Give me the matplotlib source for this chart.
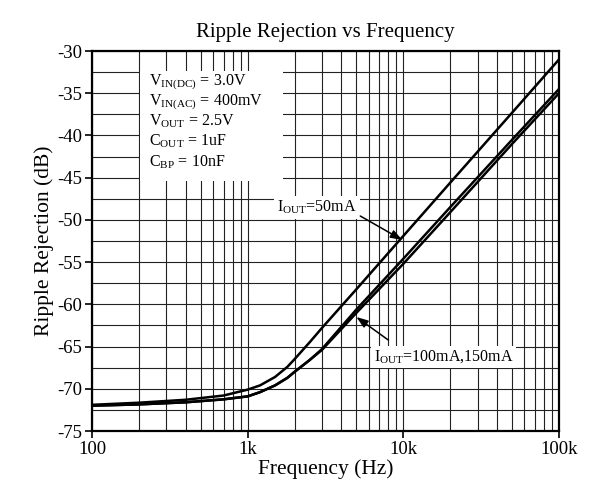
import numpy as np
import matplotlib
matplotlib.use('Agg')
import matplotlib.pyplot as plt
from matplotlib.patches import Rectangle
from matplotlib.ticker import FixedLocator, FixedFormatter, MultipleLocator

plt.rcParams['font.family'] = ['Liberation Serif', 'DejaVu Serif']
plt.rcParams['mathtext.fontset'] = 'custom'
plt.rcParams['mathtext.rm'] = 'Liberation Serif'
plt.rcParams['axes.unicode_minus'] = False

# values (Hz, dB)
freq = [100, 200, 400, 700, 1000, 1200, 1500, 1800, 2000, 2500, 3000, 5000, 10000, 20000, 50000, 100000]
rr_50mA = [-71.9, -71.65, -71.3, -70.8, -70.1, -69.6, -68.6, -67.4, -66.5, -64.5, -62.8, -58.2, -51.9, -45.6, -37.3, -31.0]
rr_100mA = [-72.0, -71.85, -71.6, -71.25, -70.9, -70.4, -69.6, -68.7, -68.0, -66.6, -65.3, -60.6, -54.6, -48.5, -40.5, -34.5]
rr_150mA = [-72.0, -71.85, -71.6, -71.25, -70.9, -70.4, -69.6, -68.7, -68.0, -66.6, -65.4, -61.0, -55.2, -49.1, -41.0, -35.0]

xtick_vals = [100, 1000, 10000, 100000]
xtick_labels = ['100', '1k', '10k', '100k']

conditions = [r'V$_{\mathrm{IN(DC)}}$ = 3.0V',
              r'V$_{\mathrm{IN(AC)}}$ = 400mV',
              r'V$_{\mathrm{OUT}}$ = 2.5V',
              r'C$_{\mathrm{OUT}}$ = 1uF',
              r'C$_{\mathrm{BP}}$ = 10nF']

fig = plt.figure(figsize=(5.93, 4.93), dpi=100)
ax = fig.add_axes([92 / 593, 1 - 431 / 493, 467 / 593, 380 / 493])

ax.set_xscale('log')
ax.set_xlim(100, 100000)
ax.set_ylim(-75, -30)

# grid
ax.xaxis.set_major_locator(FixedLocator(xtick_vals))
ax.xaxis.set_major_formatter(FixedFormatter(xtick_labels))
minor_x = [m * d for d in [100, 1000, 10000] for m in range(2, 10)]
ax.xaxis.set_minor_locator(FixedLocator(minor_x))
ax.xaxis.set_minor_formatter(FixedFormatter([''] * len(minor_x)))
ax.yaxis.set_major_locator(MultipleLocator(5))
ax.yaxis.set_minor_locator(MultipleLocator(2.5))
ax.grid(which='both', color='#222222', lw=0.8)
ax.set_axisbelow(True)

ax.tick_params(which='major', direction='out', length=5, width=1.2, labelsize=13.5, pad=2)
ax.tick_params(which='minor', length=0)
for s in ax.spines.values():
    s.set_linewidth(1.6)

ax.plot(freq, rr_50mA, color='black', lw=1.8, zorder=3)
ax.plot(freq, rr_100mA, color='black', lw=1.8, zorder=3)
ax.plot(freq, rr_150mA, color='black', lw=1.8, zorder=3)

# conditions box
ax.add_patch(Rectangle((0.103, 0.658), 0.306, 0.289, transform=ax.transAxes,
                       facecolor='white', edgecolor='none', zorder=2))
for i, line in enumerate(conditions):
    ax.text(0.1227, (431 - (85 + 20.25 * i)) / 380, line, transform=ax.transAxes,
            fontsize=11.5, va='baseline', ha='left', zorder=4)

arrow = dict(arrowstyle='-|>,head_length=0.7,head_width=0.25', color='black', lw=1.1,
             shrinkA=0, shrinkB=0)
ax.text(1548, -49.03, r'I$_{\mathrm{OUT}}$=50mA', fontsize=11.5, va='baseline', ha='left',
        zorder=4, bbox=dict(facecolor='white', edgecolor='none', pad=2))
ax.annotate('', xy=(9850, -52.38), xytext=(5290, -49.54), arrowprops=arrow, zorder=5)

ax.text(6440, -66.71, r'I$_{\mathrm{OUT}}$=100mA,150mA', fontsize=11.5, va='baseline', ha='left',
        zorder=4, bbox=dict(facecolor='white', edgecolor='none', pad=2))
ax.annotate('', xy=(4990, -61.5), xytext=(8010, -64.23), arrowprops=arrow, zorder=5)

ax.set_title('Ripple Rejection vs Frequency', fontsize=15, pad=10)
ax.set_xlabel('Frequency (Hz)', fontsize=15.5, labelpad=1)
ax.set_ylabel('Ripple Rejection (dB)', fontsize=15.5, labelpad=2)

fig.savefig('out.png', dpi=100)
